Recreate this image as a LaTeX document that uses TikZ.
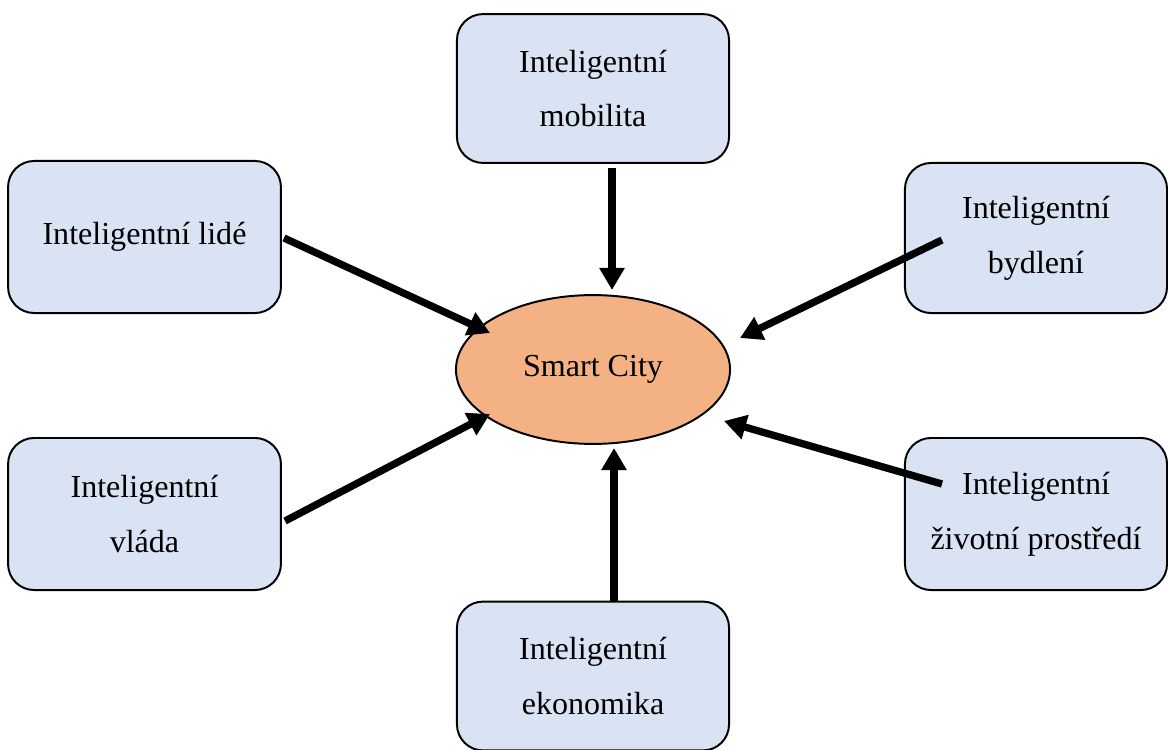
\documentclass[tikz,border=0pt]{standalone}
\usepackage{fontspec}
\setmainfont{Liberation Serif}
\usetikzlibrary{arrows.meta,shapes.geometric}
\definecolor{boxblue}{HTML}{DAE3F3}
\definecolor{ellorange}{HTML}{F4B183}
\begin{document}
\begin{tikzpicture}[x=0.025cm,y=-0.025cm,
  box/.style={draw=black,line width=1.4pt,fill=boxblue,rounded corners=0.65cm,
    inner sep=0pt,align=center,font=\fontsize{22.8}{39}\selectfont},
  hub/.style={draw=black,line width=1.4pt,fill=ellorange,ellipse,inner sep=0pt,
    minimum width=6.85cm,minimum height=3.72cm,font=\fontsize{22.8}{39}\selectfont},
  conn/.style={line width=5.2pt,-{Triangle[length=0.55cm,width=0.6cm]}}]
\useasboundingbox (0,0) rectangle (1168,749);
\node[box,minimum width=6.8cm,minimum height=3.72cm] (mob) at (593,88.5) {Inteligentní\\mobilita};
\node[box,minimum width=6.82cm,minimum height=3.8cm] (lide) at (144.5,237) {Inteligentní lidé};
\node[box,minimum width=6.55cm,minimum height=3.75cm] (byd) at (1036,238) {Inteligentní\\bydlení};
\node[box,minimum width=6.82cm,minimum height=3.8cm] (vlada) at (144.5,514) {Inteligentní\\vláda};
\node[box,minimum width=6.55cm,minimum height=3.8cm] (ziv) at (1036,514) {Inteligentní\\\hspace*{-1.3em}životní prostředí\hspace*{-1.3em}};
\node[box,minimum width=6.8cm,minimum height=3.72cm] (eko) at (593,676) {Inteligentní\\ekonomika};
\node[hub] (sc) at (593,369.5) {Smart City};
\coordinate (t1) at (612,168); \coordinate (h1) at (612,290);
\coordinate (t2) at (284,238); \coordinate (h2) at (490,333);
\coordinate (t3) at (942,240); \coordinate (h3) at (740,338);
\coordinate (t4) at (285,521); \coordinate (h4) at (490,414);
\coordinate (t5) at (942,484); \coordinate (h5) at (724,421);
\coordinate (t6) at (614,601); \coordinate (h6) at (614,448);
\draw[conn] (t1) -- (h1);
\draw[conn] (t2) -- (h2);
\draw[conn] (t3) -- (h3);
\draw[conn] (t4) -- (h4);
\draw[conn] (t5) -- (h5);
\draw[conn] (t6) -- (h6);
\end{tikzpicture}
\end{document}
